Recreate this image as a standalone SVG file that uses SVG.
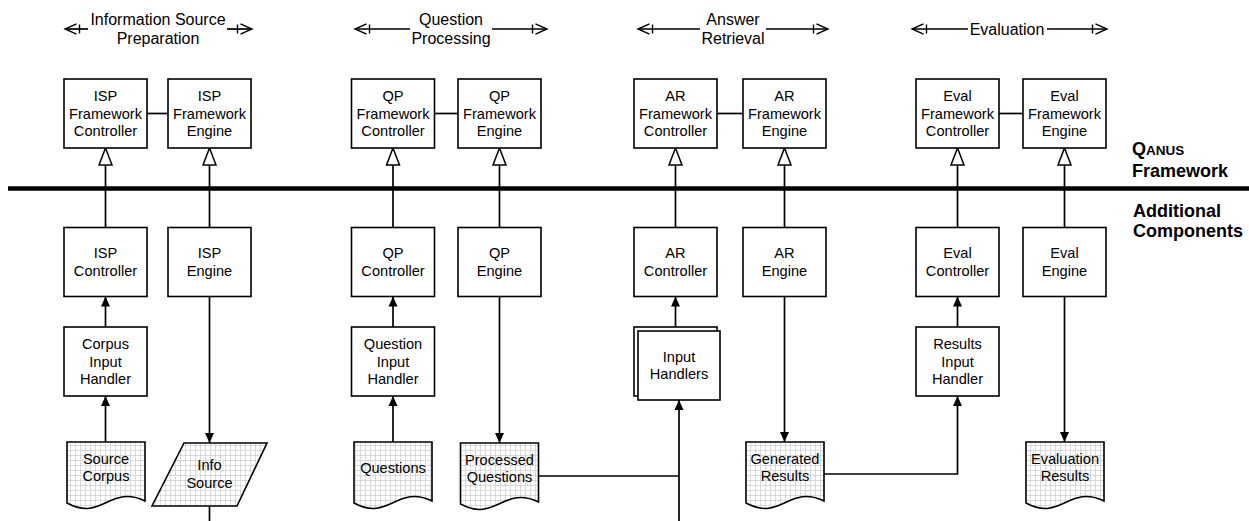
<svg xmlns="http://www.w3.org/2000/svg" width="1249" height="521" viewBox="0 0 1249 521">
  <defs>
    <style>
      .box { fill: #fff; stroke: #000; stroke-width: 1.6; }
      .doc { fill: url(#grid); stroke: #000; stroke-width: 1.6; }
      .wire { fill: none; stroke: #000; stroke-width: 1.7; }
      .lbl { font-family: "Liberation Sans", Arial, sans-serif; font-size: 14.6px; text-anchor: middle; fill: #000; }
      .hdr { font-family: "Liberation Sans", Arial, sans-serif; font-size: 16px; text-anchor: middle; fill: #000; }
      .side { font-family: "Liberation Sans", Arial, sans-serif; font-size: 18px; font-weight: bold; fill: #000; }
    </style>
    <pattern id="grid" patternUnits="userSpaceOnUse" width="5" height="5">
      <rect width="5" height="5" fill="#fff"/>
      <path d="M0,0.5 H5 M0.5,0 V5" stroke="#cacaca" stroke-width="0.7" fill="none"/>
    </pattern>
    <!-- open triangle for generalisation links -->
    <marker id="hollow" markerUnits="userSpaceOnUse" markerWidth="20" markerHeight="16" refX="18" refY="8" orient="auto" viewBox="0 0 20 16">
      <path d="M1,1.5 L18,8 L1,14.5 Z" fill="#fff" stroke="#000" stroke-width="1.5"/>
    </marker>
    <!-- filled arrowhead for data flow -->
    <marker id="solid" markerUnits="userSpaceOnUse" markerWidth="12" markerHeight="10" refX="10" refY="5" orient="auto" viewBox="0 0 12 10">
      <path d="M0,0.5 L10,5 L0,9.5 Z" fill="#000"/>
    </marker>
    <!-- dimension-style arrow end: chevron plus tick -->
    <marker id="dim" markerUnits="userSpaceOnUse" markerWidth="22" markerHeight="14" refX="20" refY="7" orient="auto-start-reverse" viewBox="0 0 22 14">
      <path d="M8.5,1.8 L20,7 L8.5,12.2 M5.5,2.5 V11.5" fill="none" stroke="#000" stroke-width="1.4"/>
    </marker>
  </defs>

  <rect width="1249" height="521" fill="#fff"/>

  <!-- stage headers -->
  <g id="headers">
    <text class="hdr" x="158" y="25">Information Source</text>
    <text class="hdr" x="158" y="44">Preparation</text>
    <text class="hdr" x="451" y="25">Question</text>
    <text class="hdr" x="451" y="44">Processing</text>
    <text class="hdr" x="733" y="25">Answer</text>
    <text class="hdr" x="733" y="44">Retrieval</text>
    <text class="hdr" x="1007" y="35">Evaluation</text>
    <g class="wire" stroke-width="1.4">
      <path d="M88,29 H65" marker-end="url(#dim)"/>
      <path d="M227,29 H252" marker-end="url(#dim)"/>
      <path d="M410,29 H355" marker-end="url(#dim)"/>
      <path d="M492,29 H547" marker-end="url(#dim)"/>
      <path d="M700,29 H638" marker-end="url(#dim)"/>
      <path d="M766,29 H828" marker-end="url(#dim)"/>
      <path d="M968,29 H912" marker-end="url(#dim)"/>
      <path d="M1047,29 H1107" marker-end="url(#dim)"/>
    </g>
  </g>

  <!-- layer divider and side labels -->
  <g id="divider">
    <path d="M8,188.5 H1249" stroke="#000" stroke-width="4.5"/>
    <text class="side" x="1132" y="155"><tspan>Q</tspan><tspan font-size="13.5px">ANUS</tspan></text>
    <text class="side" x="1132" y="177">Framework</text>
    <text class="side" x="1133" y="217">Additional</text>
    <text class="side" x="1133" y="237">Components</text>
  </g>

  <!-- connectors -->
  <g id="connectors" class="wire">
    <!-- framework controller to engine links -->
    <path d="M147,113.5 H168"/>
    <path d="M434.5,113.5 H458"/>
    <path d="M717,113.5 H743"/>
    <path d="M999,113.5 H1023"/>
    <!-- generalisation into framework classes -->
    <path d="M105.5,227.5 V148" marker-end="url(#hollow)"/>
    <path d="M209.5,227.5 V148" marker-end="url(#hollow)"/>
    <path d="M393,227.5 V148" marker-end="url(#hollow)"/>
    <path d="M499.5,227.5 V148" marker-end="url(#hollow)"/>
    <path d="M675.5,227.5 V148" marker-end="url(#hollow)"/>
    <path d="M784.5,227.5 V148" marker-end="url(#hollow)"/>
    <path d="M957.5,227.5 V148" marker-end="url(#hollow)"/>
    <path d="M1064.5,227.5 V148" marker-end="url(#hollow)"/>
    <!-- input handlers into controllers -->
    <path d="M105.5,327 V296.5" marker-end="url(#solid)"/>
    <path d="M393,327 V296.5" marker-end="url(#solid)"/>
    <path d="M675.5,327 V296.5" marker-end="url(#solid)"/>
    <path d="M957.5,327 V296.5" marker-end="url(#solid)"/>
    <!-- sources into input handlers -->
    <path d="M105.5,442 V396" marker-end="url(#solid)"/>
    <path d="M393,442 V396" marker-end="url(#solid)"/>
    <!-- engines into outputs -->
    <path d="M209.5,296.5 V443" marker-end="url(#solid)"/>
    <path d="M499.5,296.5 V443" marker-end="url(#solid)"/>
    <path d="M784.5,296.5 V442" marker-end="url(#solid)"/>
    <path d="M1064.5,296.5 V442" marker-end="url(#solid)"/>
    <!-- info source continues off the sheet -->
    <path d="M209.5,506 V521"/>
    <!-- processed questions and generated results feed the next stage -->
    <path d="M538.5,476 H679"/>
    <path d="M679,521 V400" marker-end="url(#solid)"/>
    <path d="M824,474 H957.5 V396" marker-end="url(#solid)"/>
  </g>

  <!-- Information Source Preparation -->
  <g id="isp-framework-controller">
    <rect class="box" x="64" y="79" width="83" height="69"/>
    <text class="lbl" x="105.5" y="101">ISP</text>
    <text class="lbl" x="105.5" y="118.5">Framework</text>
    <text class="lbl" x="105.5" y="136">Controller</text>
  </g>
  <g id="isp-framework-engine">
    <rect class="box" x="168" y="79" width="83" height="69"/>
    <text class="lbl" x="209.5" y="101">ISP</text>
    <text class="lbl" x="209.5" y="118.5">Framework</text>
    <text class="lbl" x="209.5" y="136">Engine</text>
  </g>
  <g id="isp-controller">
    <rect class="box" x="64" y="227.5" width="83" height="69"/>
    <text class="lbl" x="105.5" y="258.25">ISP</text>
    <text class="lbl" x="105.5" y="275.75">Controller</text>
  </g>
  <g id="isp-engine">
    <rect class="box" x="168" y="227.5" width="83" height="69"/>
    <text class="lbl" x="209.5" y="258.25">ISP</text>
    <text class="lbl" x="209.5" y="275.75">Engine</text>
  </g>
  <g id="corpus-input-handler">
    <rect class="box" x="64" y="327" width="83" height="69"/>
    <text class="lbl" x="105.5" y="349">Corpus</text>
    <text class="lbl" x="105.5" y="366.5">Input</text>
    <text class="lbl" x="105.5" y="384">Handler</text>
  </g>
  <g id="source-corpus">
    <path class="doc" d="M67,442 H145 V501 C110,484 102,522 67,503 Z"/>
    <text class="lbl" x="106" y="463.5">Source</text>
    <text class="lbl" x="106" y="481">Corpus</text>
  </g>
  <g id="info-source">
    <path class="doc" d="M184,443 H267 L237,506 H152 Z"/>
    <text class="lbl" x="209.5" y="470">Info</text>
    <text class="lbl" x="209.5" y="487.5">Source</text>
  </g>

  <!-- Question Processing -->
  <g id="qp-framework-controller">
    <rect class="box" x="351.5" y="79" width="83" height="69"/>
    <text class="lbl" x="393" y="101">QP</text>
    <text class="lbl" x="393" y="118.5">Framework</text>
    <text class="lbl" x="393" y="136">Controller</text>
  </g>
  <g id="qp-framework-engine">
    <rect class="box" x="458" y="79" width="83" height="69"/>
    <text class="lbl" x="499.5" y="101">QP</text>
    <text class="lbl" x="499.5" y="118.5">Framework</text>
    <text class="lbl" x="499.5" y="136">Engine</text>
  </g>
  <g id="qp-controller">
    <rect class="box" x="351.5" y="227.5" width="83" height="69"/>
    <text class="lbl" x="393" y="258.25">QP</text>
    <text class="lbl" x="393" y="275.75">Controller</text>
  </g>
  <g id="qp-engine">
    <rect class="box" x="458" y="227.5" width="83" height="69"/>
    <text class="lbl" x="499.5" y="258.25">QP</text>
    <text class="lbl" x="499.5" y="275.75">Engine</text>
  </g>
  <g id="question-input-handler">
    <rect class="box" x="351.5" y="327" width="83" height="69"/>
    <text class="lbl" x="393" y="349">Question</text>
    <text class="lbl" x="393" y="366.5">Input</text>
    <text class="lbl" x="393" y="384">Handler</text>
  </g>
  <g id="questions">
    <path class="doc" d="M354,442 H432 V501 C397,484 389,522 354,503 Z"/>
    <text class="lbl" x="393" y="472.5">Questions</text>
  </g>
  <g id="processed-questions">
    <path class="doc" d="M460.5,443 H538.5 V502 C503.5,485 495.5,523 460.5,504 Z"/>
    <text class="lbl" x="499.5" y="464.5">Processed</text>
    <text class="lbl" x="499.5" y="482">Questions</text>
  </g>

  <!-- Answer Retrieval -->
  <g id="ar-framework-controller">
    <rect class="box" x="634" y="79" width="83" height="69"/>
    <text class="lbl" x="675.5" y="101">AR</text>
    <text class="lbl" x="675.5" y="118.5">Framework</text>
    <text class="lbl" x="675.5" y="136">Controller</text>
  </g>
  <g id="ar-framework-engine">
    <rect class="box" x="743" y="79" width="83" height="69"/>
    <text class="lbl" x="784.5" y="101">AR</text>
    <text class="lbl" x="784.5" y="118.5">Framework</text>
    <text class="lbl" x="784.5" y="136">Engine</text>
  </g>
  <g id="ar-controller">
    <rect class="box" x="634" y="227.5" width="83" height="69"/>
    <text class="lbl" x="675.5" y="258.25">AR</text>
    <text class="lbl" x="675.5" y="275.75">Controller</text>
  </g>
  <g id="ar-engine">
    <rect class="box" x="743" y="227.5" width="83" height="69"/>
    <text class="lbl" x="784.5" y="258.25">AR</text>
    <text class="lbl" x="784.5" y="275.75">Engine</text>
  </g>
  <g id="input-handlers">
    <rect class="box" x="634" y="327" width="83" height="69"/>
    <rect class="box" x="638" y="331" width="82" height="69"/>
    <text class="lbl" x="679" y="361.75">Input</text>
    <text class="lbl" x="679" y="379.25">Handlers</text>
  </g>
  <g id="generated-results">
    <path class="doc" d="M746,442 H824 V501 C789,484 781,522 746,503 Z"/>
    <text class="lbl" x="785" y="463.5">Generated</text>
    <text class="lbl" x="785" y="481">Results</text>
  </g>

  <!-- Evaluation -->
  <g id="eval-framework-controller">
    <rect class="box" x="916" y="79" width="83" height="69"/>
    <text class="lbl" x="957.5" y="101">Eval</text>
    <text class="lbl" x="957.5" y="118.5">Framework</text>
    <text class="lbl" x="957.5" y="136">Controller</text>
  </g>
  <g id="eval-framework-engine">
    <rect class="box" x="1023" y="79" width="83" height="69"/>
    <text class="lbl" x="1064.5" y="101">Eval</text>
    <text class="lbl" x="1064.5" y="118.5">Framework</text>
    <text class="lbl" x="1064.5" y="136">Engine</text>
  </g>
  <g id="eval-controller">
    <rect class="box" x="916" y="227.5" width="83" height="69"/>
    <text class="lbl" x="957.5" y="258.25">Eval</text>
    <text class="lbl" x="957.5" y="275.75">Controller</text>
  </g>
  <g id="eval-engine">
    <rect class="box" x="1023" y="227.5" width="83" height="69"/>
    <text class="lbl" x="1064.5" y="258.25">Eval</text>
    <text class="lbl" x="1064.5" y="275.75">Engine</text>
  </g>
  <g id="results-input-handler">
    <rect class="box" x="916" y="327" width="83" height="69"/>
    <text class="lbl" x="957.5" y="349">Results</text>
    <text class="lbl" x="957.5" y="366.5">Input</text>
    <text class="lbl" x="957.5" y="384">Handler</text>
  </g>
  <g id="evaluation-results">
    <path class="doc" d="M1026,442 H1104 V501 C1069,484 1061,522 1026,503 Z"/>
    <text class="lbl" x="1065" y="463.5">Evaluation</text>
    <text class="lbl" x="1065" y="481">Results</text>
  </g>
</svg>
